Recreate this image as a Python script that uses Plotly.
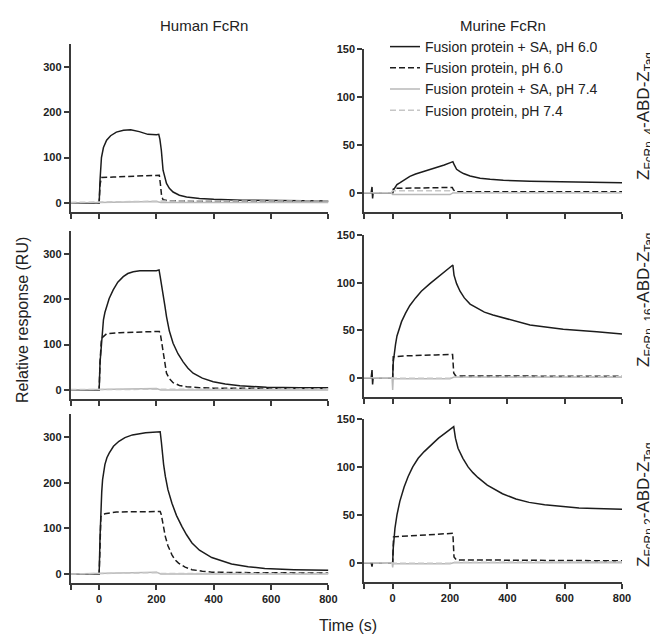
import plotly.graph_objects as go

# ---------------- DATA ----------------
series_names = ["Fusion protein + SA, pH 6.0", "Fusion protein, pH 6.0",
                "Fusion protein + SA, pH 7.4", "Fusion protein, pH 7.4"]
column_titles = ["Human FcRn", "Murine FcRn"]
row_labels = ["Z<sub>FcRn_4</sub>-ABD-Z<sub>Taq</sub>",
              "Z<sub>FcRn_16</sub>-ABD-Z<sub>Taq</sub>",
              "Z<sub>FcRn 2</sub>-ABD-Z<sub>Taq</sub>"]
x_tickvals = [-100, 0, 200, 400, 600, 800]
x_ticktext = ["", "0", "200", "400", "600", "800"]
human_yticks = [0, 100, 200, 300]
murine_yticks = [0, 50, 100, 150]

# Human FcRn, ZFcRn_4
hu4_sa60_t = [-100, -50, -5, 0, 3, 8, 15, 20, 26, 40, 60, 85, 110, 140, 170, 200, 208, 212, 217, 223, 228, 235, 245, 258, 280, 305, 350, 400, 500, 585, 800]
hu4_sa60_y = [0, -1, 0, 0, 50, 100, 122, 131, 138, 148, 156, 160, 161, 157, 151, 150, 151, 140, 116, 72, 57, 43, 32, 24, 17, 13, 10, 8, 6, 5, 4]
hu4_fp60_t = [-100, -5, 0, 3, 8, 50, 120, 200, 210, 214, 218, 223, 240, 300, 500, 800]
hu4_fp60_y = [0, 0, 0, 40, 56, 57, 59, 61, 61, 40, 15, 7, 5, 4, 3, 3]
hu4_sa74_t = [-100, 0, 200, 215, 800]
hu4_sa74_y = [0, 1, 3, 1, 1]
hu4_fp74_t = [-100, 0, 200, 220, 800]
hu4_fp74_y = [1, 2, 4, 4, 4]

# Human FcRn, ZFcRn_16
hu16_sa60_t = [-100, -5, 0, 3, 8, 15, 20, 26, 35, 49, 65, 84, 100, 119, 142, 200, 209, 213, 218, 223, 229, 235, 245, 258, 275, 293, 310, 328, 360, 398, 440, 491, 584, 700, 800]
hu16_sa60_y = [0, 0, 0, 60, 110, 155, 171, 184, 202, 221, 238, 250, 257, 261, 263, 263, 265, 250, 233, 213, 187, 162, 130, 103, 80, 62, 48, 37, 26, 18, 13, 9, 6, 5, 5]
hu16_fp60_t = [-100, -5, 0, 3, 8, 26, 72, 200, 210, 214, 217, 222, 226, 230, 235, 245, 258, 280, 305, 350, 400, 800]
hu16_fp60_y = [0, 0, 0, 60, 114, 124, 126.5, 129, 129, 122, 110, 88, 66, 52, 37, 25, 16, 10, 7, 5, 4, 3]
hu16_sa74_t = [-100, 0, 200, 215, 800]
hu16_sa74_y = [0, 1, 3, 0, 0]
hu16_fp74_t = [-100, 0, 200, 215, 800]
hu16_fp74_y = [1, 1, 2, 2, 2]

# Human FcRn, ZFcRn_2
hu2_sa60_t = [-100, -5, 0, 3, 6, 9, 12, 20, 27, 35, 50, 69, 90, 116, 162, 213, 217, 220, 225, 231, 240, 254, 270, 289, 305, 324, 350, 393, 430, 462, 520, 578, 680, 800]
hu2_sa60_y = [0, 0, 0, 80, 140, 180, 207, 240, 255, 265, 280, 291, 299, 305, 310, 312, 290, 265, 240, 214, 185, 155, 128, 104, 86, 68, 52, 36, 28, 22, 16, 12, 9.5, 8]
hu2_fp60_t = [-100, -5, 0, 3, 6, 20, 60, 213, 217, 220, 225, 231, 240, 254, 265, 277, 300, 324, 360, 393, 500, 800]
hu2_fp60_y = [0, 0, 0, 60, 126, 132, 136, 137, 130, 119, 100, 82, 62, 42, 31, 24, 15, 9.5, 6, 4, 3, 2]
hu2_sa74_t = [-100, 0, 200, 215, 800]
hu2_sa74_y = [0, 1, 4, 0, 0]
hu2_fp74_t = [-100, 0, 200, 215, 800]
hu2_fp74_y = [0, 1, 3, 1, 1]

# Murine FcRn, ZFcRn_4
mu4_sa60_t = [-100, -75, -72, -70, -68, -5, 0, 3, 8, 15, 26, 40, 60, 80, 107, 130, 153, 180, 206, 210, 215, 223, 235, 247, 270, 305, 340, 386, 479, 595, 700, 800]
mu4_sa60_y = [0, 0, 6, -6, 0, 0, 0, 3, 6, 8.5, 10.5, 13, 17, 19.5, 22, 24, 26, 29, 32, 32.5, 29, 24.5, 22, 20, 17.5, 15, 14, 13, 12, 11.5, 11, 10.5]
mu4_fp60_t = [-100, -5, 0, 3, 100, 208, 212, 220, 800]
mu4_fp60_y = [0, 0, 0, 4.5, 5, 5.5, 3, 1, 1]
mu4_sa74_t = [-100, -5, 0, 5, 200, 212, 400, 800]
mu4_sa74_y = [0, 0, -2, -2, -2, 0, 0, 0]
mu4_fp74_t = [-100, -5, 0, 5, 200, 212, 400, 800]
mu4_fp74_y = [0, 0, 2, 2, 2, 0, 0, 0]

# Murine FcRn, ZFcRn_16
mu16_sa60_t = [-100, -75, -72, -70, -68, -5, 0, 2, 5, 10, 15, 22, 31, 45, 60, 80, 100, 130, 160, 185, 210, 214, 223, 235, 250, 270, 295, 320, 350, 409, 479, 540, 595, 712, 800]
mu16_sa60_y = [0, 0, 8, -7, 0, 0, 0, 16, 25, 35, 44, 51, 59, 68, 76, 84, 91, 99, 106, 112, 118.6, 108, 99, 91, 84, 77.5, 73, 69, 66, 61, 55.4, 53, 51, 48.4, 46]
mu16_fp60_t = [-100, -5, 0, 2, 50, 150, 209, 213, 220, 800]
mu16_fp60_y = [0, 0, 0, 22, 23, 24, 24.5, 5, 1.8, 1.5]
mu16_sa74_t = [-100, -2, 0, 2, 5, 200, 212, 800]
mu16_sa74_y = [0, 0, -13, 0, -1, -1, 0.5, 0.5]
mu16_fp74_t = [-100, 0, 200, 212, 800]
mu16_fp74_y = [0, -0.5, -0.5, 0.5, 1]

# Murine FcRn, ZFcRn_2
mu2_sa60_t = [-100, -75, -72, -70, -5, 0, 2, 5, 8, 15, 25, 40, 54, 70, 89, 110, 135, 160, 182, 213, 219, 228, 245, 263, 280, 297, 330, 383, 430, 476, 530, 592, 650, 707, 760, 800]
mu2_sa60_y = [0, 0, -4, 0, 0, 0, 15, 27, 36, 50, 64, 79, 90, 100, 109, 116, 123, 130, 135, 142, 130, 119.5, 109, 100, 94, 89, 81, 72, 66.5, 63, 60.5, 58.5, 57, 56.5, 56, 55.7]
mu2_fp60_t = [-100, -5, 0, 3, 100, 210, 214, 222, 800]
mu2_fp60_y = [0, 0, 0, 27, 29, 30.7, 6, 3, 2]
mu2_sa74_t = [-100, -2, 0, 2, 5, 200, 212, 800]
mu2_sa74_y = [0, 0, -5, 0, -1, -1, 0, 0]
mu2_fp74_t = [-100, 0, 200, 212, 800]
mu2_fp74_y = [0, -0.5, -0.5, 0.5, 1]

panels = [
    [(hu4_sa60_t, hu4_sa60_y), (hu4_fp60_t, hu4_fp60_y), (hu4_sa74_t, hu4_sa74_y), (hu4_fp74_t, hu4_fp74_y)],
    [(mu4_sa60_t, mu4_sa60_y), (mu4_fp60_t, mu4_fp60_y), (mu4_sa74_t, mu4_sa74_y), (mu4_fp74_t, mu4_fp74_y)],
    [(hu16_sa60_t, hu16_sa60_y), (hu16_fp60_t, hu16_fp60_y), (hu16_sa74_t, hu16_sa74_y), (hu16_fp74_t, hu16_fp74_y)],
    [(mu16_sa60_t, mu16_sa60_y), (mu16_fp60_t, mu16_fp60_y), (mu16_sa74_t, mu16_sa74_y), (mu16_fp74_t, mu16_fp74_y)],
    [(hu2_sa60_t, hu2_sa60_y), (hu2_fp60_t, hu2_fp60_y), (hu2_sa74_t, hu2_sa74_y), (hu2_fp74_t, hu2_fp74_y)],
    [(mu2_sa60_t, mu2_sa60_y), (mu2_fp60_t, mu2_fp60_y), (mu2_sa74_t, mu2_sa74_y), (mu2_fp74_t, mu2_fp74_y)],
]

# ---------------- STYLE / LAYOUT ----------------
OFF = 8            # page body margin
W, H = 658 - OFF, 638 - OFF
FONT = "Arial, Liberation Sans, sans-serif"
AXC = "#3a3a3a"


def fx(p):  # screen px -> paper x
    return (p - OFF) / W


def fy(p):  # screen px -> paper y
    return (H - (p - OFF)) / H


styles = [
    dict(color="#1c1c1c", width=1.5, dash="solid"),
    dict(color="#1c1c1c", width=1.5, dash="6px,3px"),
    dict(color="#b8b8b8", width=1.5, dash="solid"),
    dict(color="#c6c6c6", width=1.5, dash="6px,3px"),
]
x_px = [(70.5, 328.4), (364, 622)]
# (bottom_px, top_px) for each panel
y_px = [(212, 44), (211.8, 49.3), (399, 231.4), (396.7, 235.2), (583.1, 414.4), (581.9, 419)]

fig = go.Figure()
for i, series in enumerate(panels):
    ax = "" if i == 0 else str(i + 1)
    for j, (t, y) in enumerate(series):
        fig.add_trace(go.Scatter(
            x=t, y=y, mode="lines", name=series_names[j],
            line=styles[j], xaxis="x" + ax, yaxis="y" + ax,
            showlegend=(i == 0), legendrank=j + 1))

layout = dict(
    width=W, height=H, margin=dict(l=0, r=0, t=0, b=0, autoexpand=False),
    paper_bgcolor="white", plot_bgcolor="white",
    font=dict(family=FONT, color="#222"),
    legend=dict(x=fx(385), y=fy(31), xanchor="left", yanchor="top",
                font=dict(size=14, family=FONT, color="#222"),
                bgcolor="rgba(0,0,0,0)", itemwidth=30, tracegroupgap=0),
)
for i in range(6):
    col = i % 2
    row = i // 2
    ax = "" if i == 0 else str(i + 1)
    b, t = y_px[i]
    layout["xaxis" + ax] = dict(
        domain=[fx(x_px[col][0]), fx(x_px[col][1])], range=[-100, 800],
        anchor="y" + ax, automargin=False,
        tickvals=x_tickvals, ticktext=x_ticktext, showticklabels=(row == 2),
        showline=True, linecolor=AXC, linewidth=1.6, ticks="outside",
        ticklen=5, tickwidth=1.6, tickcolor=AXC, showgrid=False, zeroline=False,
        tickfont=dict(size=11, family=FONT, color="#222", weight="bold"))
    layout["yaxis" + ax] = dict(
        domain=[fy(b), fy(t)], automargin=False,
        range=[-20, 350] if col == 0 else [-20, 150], anchor="x" + ax,
        tickvals=human_yticks if col == 0 else murine_yticks,
        showline=True, linecolor=AXC, linewidth=1.6, ticks="outside",
        ticklen=5, tickwidth=1.6, tickcolor=AXC, showgrid=False, zeroline=False,
        tickfont=dict(size=11, family=FONT, color="#222", weight="bold"))

ann = [
    dict(text=column_titles[0], x=fx(204), y=fy(25), font=dict(size=15)),
    dict(text=column_titles[1], x=fx(503), y=fy(25), font=dict(size=15)),
    dict(text="Relative response (RU)", x=fx(22), y=fy(320), textangle=-90, font=dict(size=16)),
    dict(text="Time (s)", x=fx(348), y=fy(625), font=dict(size=16)),
    dict(text=row_labels[0], x=fx(645), y=fy(116), textangle=-90, font=dict(size=17)),
    dict(text=row_labels[1], x=fx(645), y=fy(300), textangle=-90, font=dict(size=17)),
    dict(text=row_labels[2], x=fx(645), y=fy(505), textangle=-90, font=dict(size=17)),
]
for a in ann:
    a.update(xref="paper", yref="paper", showarrow=False, xanchor="center", yanchor="middle")
    a["font"].update(family=FONT, color="#222")
layout["annotations"] = ann

fig.update_layout(**layout)
fig.write_html("out.html")
